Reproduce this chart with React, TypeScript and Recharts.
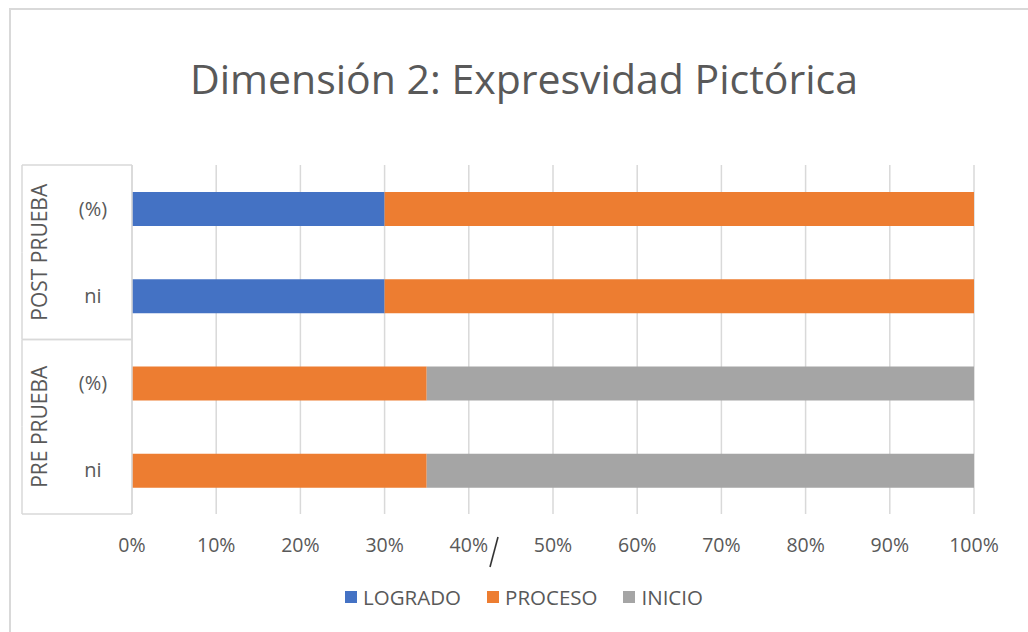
import React from 'react';
import { BarChart, Bar, XAxis, YAxis, CartesianGrid } from 'recharts';

const groupLabels = ['POST PRUEBA', 'POST PRUEBA', 'PRE PRUEBA', 'PRE PRUEBA'];
const subLabels = ['(%)', 'ni', '(%)', 'ni'];
const logrado = [30, 30, 0, 0];
const proceso = [70, 70, 35, 35];
const inicio = [0, 0, 65, 65];
const xTicks = [0, 10, 20, 30, 40, 50, 60, 70, 80, 90, 100];
const seriesNames = ['LOGRADO', 'PROCESO', 'INICIO'];
const seriesColors = ['#4472C4', '#ED7D31', '#A5A5A5'];
const title = 'Dimensión 2: Expresvidad Pictórica';

const data = subLabels.map((s, i) => ({
  key: `${groupLabels[i]}|${s}|${i}`,
  idx: i,
  LOGRADO: logrado[i],
  PROCESO: proceso[i],
  INICIO: inicio[i],
}));

const FONT = "'Open Sans', sans-serif";
const TXT = '#595959';
const LINE = '#d9d9d9';

const YTick = (props: any) => {
  const { x, y, payload } = props;
  const i: number = payload.index ?? props.index ?? 0;
  const half: number = payload.offset && payload.offset > 0 ? payload.offset : 43.6;
  const isGroupStart = i === 0 || groupLabels[i] !== groupLabels[i - 1];
  const isGroupEnd = i === groupLabels.length - 1 || groupLabels[i] !== groupLabels[i + 1];
  const left = x - 110;
  return (
    <g>
      <text x={x - 39} y={y} dy="0.35em" textAnchor="middle" fill={TXT} fontSize={20} fontFamily={FONT}>
        {subLabels[i]}
      </text>
      <line x1={left} x2={left} y1={y - half} y2={y + half} stroke={LINE} strokeWidth={1.5} />
      {isGroupStart && (
        <line x1={left} x2={x} y1={y - half} y2={y - half} stroke={LINE} strokeWidth={1.5} />
      )}
      {isGroupEnd && (
        <line x1={left} x2={x} y1={y + half} y2={y + half} stroke={LINE} strokeWidth={1.5} />
      )}
      {isGroupStart && (
        <text
          x={left + 18}
          y={y + half}
          dy="0.35em"
          textAnchor="middle"
          fill={TXT}
          fontSize={21}
          fontFamily={FONT}
          transform={`rotate(-90, ${left + 18}, ${y + half})`}
        >
          {groupLabels[i]}
        </text>
      )}
    </g>
  );
};

export default function App() {
  return (
    <div style={{ position: 'absolute', left: 0, top: 0, width: 1028, height: 632, overflow: 'hidden', background: '#fff' }}>
      <div style={{ position: 'absolute', left: 9, top: 8, width: 1019, height: 624, borderLeft: `2px solid ${LINE}`, borderTop: `2px solid ${LINE}` }} />
      <svg width={1028} height={140} style={{ position: 'absolute', left: 0, top: 0 }}>
        <text x={524} y={94} textAnchor="middle" fill={TXT} fontSize={41} fontFamily={FONT}>
          {title}
        </text>
      </svg>
      <div style={{ position: 'absolute', left: 0, top: 0 }}>
        <BarChart
          width={1028}
          height={632}
          data={data}
          layout="vertical"
          margin={{ top: 165, right: 54, bottom: 88, left: 22 }}
        >
          <CartesianGrid horizontal={false} stroke={LINE} strokeWidth={1.5} />
          <XAxis
            type="number"
            domain={[0, 100]}
            ticks={xTicks}
            interval={0}
            tickFormatter={(v: number) => `${v}%`}
            axisLine={false}
            tickLine={false}
            tickSize={0}
            tickMargin={24}
            tick={{ fill: TXT, fontSize: 19.5, fontFamily: FONT }}
            height={30}
          />
          <YAxis
            type="category"
            dataKey="key"
            width={110}
            axisLine={{ stroke: LINE, strokeWidth: 1.5 }}
            tickLine={false}
            tickSize={0}
            tickMargin={0}
            interval={0}
            tick={<YTick />}
          />
          {seriesNames.map((name, k) => (
            <Bar key={name} dataKey={name} name={name} stackId="a" fill={seriesColors[k]} barSize={34} isAnimationActive={false} />
          ))}
        </BarChart>
      </div>
      <div
        style={{
          position: 'absolute',
          top: 584,
          left: 0,
          width: 1048,
          display: 'flex',
          justifyContent: 'center',
          alignItems: 'center',
          fontFamily: FONT,
          fontSize: 20.5,
          color: TXT,
          lineHeight: '26px',
        }}
      >
        {seriesNames.map((name, k) => (
          <div key={name} style={{ display: 'flex', alignItems: 'center', marginLeft: k === 0 ? 0 : 26 }}>
            <div style={{ width: 12, height: 12, background: seriesColors[k], marginRight: 6 }} />
            <span>{name}</span>
          </div>
        ))}
      </div>
      <svg width={1028} height={632} style={{ position: 'absolute', left: 0, top: 0, pointerEvents: 'none' }}>
        <line x1={498} y1={537} x2={490} y2={567} stroke="#333" strokeWidth={1.6} />
      </svg>
    </div>
  );
}
